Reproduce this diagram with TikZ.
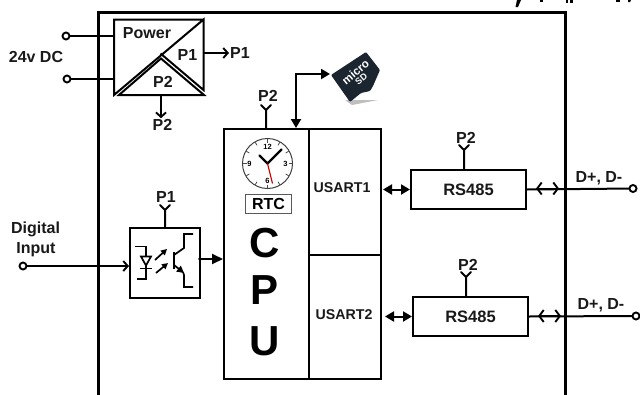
\documentclass[tikz,border=0pt]{standalone}
\usepackage{fontspec}
\setmainfont{Liberation Sans}
\usetikzlibrary{arrows.meta,calc}
\definecolor{carddark}{HTML}{1A2530}
\tikzset{
  x=1pt,y=-1pt,
  lbl/.style={font=\fontsize{16}{16}\bfseries\selectfont,inner sep=0pt,text=black!90},
  usart/.style={font=\fontsize{14.2}{14}\bfseries\selectfont,inner sep=0pt,text=black!90},
  big/.style={font=\fontsize{42}{42}\bfseries\selectfont,inner sep=0pt},
  wire/.style={line width=2pt,line cap=round,line join=round},
  boxw/.style={draw,line width=2pt,inner sep=0pt,anchor=north west},
  term/.style={circle,draw,fill=white,line width=1.9pt,minimum size=7pt,inner sep=0pt},
  open/.style={-{Straight Barb[length=4.5pt,width=10pt,line width=1.9pt]}},
  solid tip/.style={-{Triangle[length=11pt,width=10pt]}},
  both solid/.style={{Triangle[length=9pt,width=10pt]}-{Triangle[length=9pt,width=10pt]}},
  both barb/.style={{Straight Barb[length=4.5pt,width=12pt,line width=1.9pt]}-{Straight Barb[length=4.5pt,width=12pt,line width=1.9pt]}},
}
\newcommand{\antennaAt}[2]{%
  \draw[wire] (#1 -| #2) -- (#2) -- +(-5,-5) (#2) -- +(5,-5);
}
\begin{document}
\begin{tikzpicture}
\useasboundingbox (0,0) rectangle (640,394);
\clip (0,0) rectangle (640,394);
\fill[white] (0,0) rectangle (640,394);

% clipped remains of text along the top edge
\fill[black] (517,0) -- (521,0) -- (518,7) -- (515.5,7) -- cycle;
\fill[black] (540,0) rectangle (543,1.5);
\fill[black] (566,0) rectangle (568,2.5);
\fill[black] (570,0) rectangle (572.5,2.5);
\fill[black] (616,0) rectangle (619.5,2);
\fill[black] (628,0) -- (631,0) -- (630,2) -- (628,2) -- cycle;

% outer frame
\draw[line width=3pt,line join=miter] (98,398) -- (98,12) -- (565,12) -- (565,398);

% power
\node[inner sep=0pt,minimum width=89.5pt,minimum height=75.5pt,anchor=north west] (power) at (114,19.5) {};
\draw[line width=2pt,line join=miter] (203.5,19.5) -- (114,19.5) -- (114,95) -- (203.5,19.5) -- (203.5,90) -- (160.5,53.5);
\draw[wire,line join=miter] (119,95) -- (161,58.5) -- (204,95) -- cycle;
\node[lbl] (pwrlbl) at (147,33) {Power};
\node[lbl] (p1in) at (187.5,55) {P1};
\node[lbl] (p2in) at (163,82) {P2};
\node[term] (dc1) at (66,36) {};
\node[term] (dc2) at (67,79) {};
\draw[wire] (dc1) -- (dc1 -| power.west);
\draw[wire] (dc2) -- (dc2 -| power.west);
\node[lbl] (dc) at (36,57) {24v DC};
\node[lbl] (p1out) at (240,53) {P1};
\node[lbl] (p2out) at (162.5,125) {P2};
\coordinate (p1from) at (204,53);
\coordinate (p2from) at (161,96);
\draw[wire,open] (p1from) -- ([xshift=-1pt]p1out.west);
\draw[wire,open] (p2from) -- ([yshift=1pt]p2out.north -| p2from);

% cpu
\node[boxw,minimum width=85pt,minimum height=250pt] (cpu) at (223,128) {};
\node[boxw,minimum width=72pt,minimum height=126pt] (u1) at (308,128) {};
\node[boxw,minimum width=72pt,minimum height=124pt] (u2) at (308,254) {};
\node[usart] at (342,188) {USART1};
\node[usart] at (344,315) {USART2};

% clock
\begin{scope}[shift={(267.5,163.5)}]
  \node[circle,draw=black!75,line width=1pt,minimum size=50pt,inner sep=0pt] (clock) at (0,0) {};
  \foreach \a in {0,30,...,330}
    \draw[black!70,line width=0.8pt] (\a:21) -- (\a:24.5);
  \node[font=\fontsize{7.5}{7}\bfseries\selectfont,inner sep=0pt] at (0,-17) {12};
  \node[font=\fontsize{7.5}{7}\bfseries\selectfont,inner sep=0pt] at (18,0) {3};
  \node[font=\fontsize{7.5}{7}\bfseries\selectfont,inner sep=0pt] at (0,17) {6};
  \node[font=\fontsize{7.5}{7}\bfseries\selectfont,inner sep=0pt] at (-18,0) {9};
  \draw[line width=2.3pt,line cap=round] (-8,-8) -- (0,0) -- (14,-14);
  \draw[red!85!black,line width=1.1pt] (0,0) -- (5,20);
\end{scope}
\node[draw=black!65,line width=1pt,minimum width=46.5pt,minimum height=19pt,inner sep=0pt,font=\fontsize{16}{16}\bfseries\selectfont] (rtc) at (268.5,203.5) {RTC};
\node[big] at (265,243) {C};
\node[big] at (265,290) {P};
\node[big] at (265,341) {U};

% microSD
\fill[black!25] (345,100) -- (378,100) -- (352,105) -- cycle;
\fill[carddark,rounded corners=1pt] (331,75) -- (366,52) -- (380,70) -- (373,86) -- (370,91) -- (361,93) -- (350,102) -- cycle;
\node[rotate=40,text=white,inner sep=0pt,align=center,font=\fontsize{11.5}{9}\bfseries\selectfont] (sdt) at (358,75) {micro\\[-1pt]{\fontsize{9}{9}\bfseries\selectfont SD}};
\coordinate (sdleft) at (330,74);
\coordinate (sdbend) at (296,74);
\draw[wire,line join=miter,both solid] (cpu.north -| sdbend) -- (sdbend) -- (sdleft);
\coordinate (a0) at (266,110);
\antennaAt{cpu.north}{a0}
\node[lbl] at (268,96) {P2};

% RS485
\node[boxw,minimum width=115pt,minimum height=39pt] (rs1) at (410,169) {};
\node[lbl,font=\fontsize{16.5}{16}\bfseries\selectfont] at (rs1.center) {RS485};
\node[boxw,minimum width=115pt,minimum height=39pt] (rs2) at (412,296) {};
\node[lbl,font=\fontsize{16.5}{16}\bfseries\selectfont] at (rs2.center) {RS485};
\coordinate (a1) at (464,150);
\coordinate (a2) at (466,277);
\antennaAt{rs1.north}{a1}
\antennaAt{rs2.north}{a2}
\node[lbl] at (466,138) {P2};
\node[lbl] at (468,265) {P2};
\draw[wire,both solid,shorten <=1pt] (rs1.west -| u1.east) -- (rs1.west);
\draw[wire,both solid,shorten <=3pt] (rs2.west -| u2.east) -- (rs2.west);
\node[term] (t1) at (633,188.5) {};
\node[term] (t2) at (636,316) {};
\draw[wire] (rs1.east) -- (t1);
\draw[wire] (rs2.east) -- (t2);
\coordinate (c1a) at (536,188.5);
\coordinate (c1b) at (559,188.5);
\coordinate (c2a) at (538,316);
\coordinate (c2b) at (561,316);
\draw[wire,both barb] (c1a) -- (c1b);
\draw[wire,both barb] (c2a) -- (c2b);
\node[lbl] at (599,178) {D+, D-};
\node[lbl] at (601,305) {D+, D-};

% opto-coupler
\node[boxw,minimum width=70pt,minimum height=70pt] (opto) at (129,227) {};
\coordinate (a3) at (165,210);
\antennaAt{opto.north}{a3}
\node[lbl] at (166,197) {P1};
\node[term] (din) at (23,266) {};
\draw[wire,open] (din) -- (din -| opto.west);
\node[lbl] at (35.5,229) {Digital};
\node[lbl] at (36,250) {Input};
\coordinate (optoOut) at (199,259);
\draw[wire,solid tip] (optoOut) -- (optoOut -| cpu.west);
\begin{scope}[line width=1.7pt,line join=miter]
  \draw (135,246.5) -- (146,246.5) -- (146,256.5);
  \draw (141,256.5) -- (151,256.5) -- (146,265.5) -- cycle;
  \draw (140,268.5) -- (152,268.5);
  \draw (146,265.5) -- (146,279) -- (137,279);
  \draw[-{Triangle[length=6pt,width=6pt]}] (155,260) -- (167,249);
  \draw[-{Triangle[length=6pt,width=6pt]}] (156,273) -- (168,263);
  \draw[line width=2.2pt] (174,252) -- (174,269);
  \draw (174,255) -- (184,248) -- (184,234) -- (193,234);
  \draw[-{Triangle[length=7pt,width=7pt]}] (174,265) -- (184,273);
  \draw (183,272) -- (184,275) -- (184,287) -- (193,287);
\end{scope}
\end{tikzpicture}
\end{document}
